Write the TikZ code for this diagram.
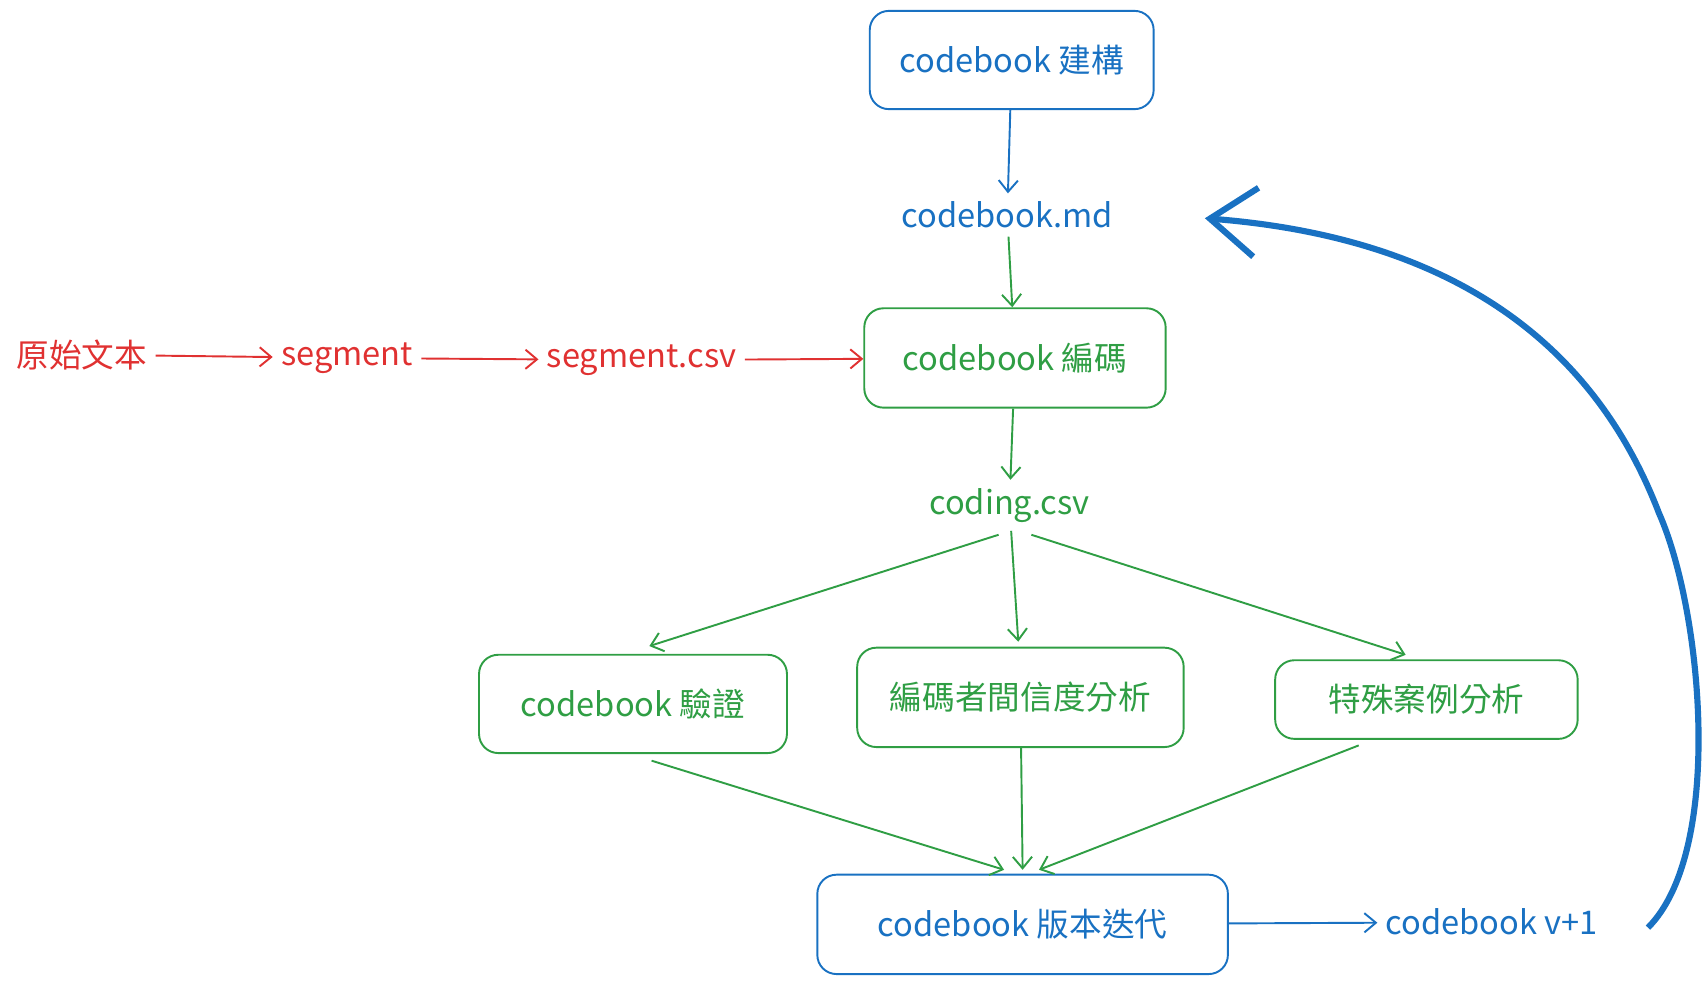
\documentclass[tikz,border=0pt]{standalone}
\usepackage{fontspec}
\setmainfont{Noto Sans CJK TC}
\usetikzlibrary{arrows.meta}
\definecolor{cb}{HTML}{1971C2}
\definecolor{cg}{HTML}{2F9E44}
\definecolor{cr}{HTML}{E03131}
\begin{document}
\begin{tikzpicture}[x=0.01cm,y=0.01cm,font=\fontsize{8.5}{10}\selectfont,
 box/.style={draw,rounded corners=5pt,line width=0.5pt,inner sep=0pt},
 txt/.style={inner sep=2pt},
 arr/.style={-{Straight Barb[length=3pt,width=5pt]},line width=0.5pt}]
\useasboundingbox (0,0) rectangle (1565,-901);
\node[box,cb,minimum width=26mm,minimum height=9mm] (a) at (927,-55) {codebook 建構};
\node[txt,cb] (md) at (923,-197) {codebook.md};
\node[box,cg,minimum width=27.6mm,minimum height=9.1mm] (b) at (930,-328) {codebook 編碼};
\node[txt,cr] (r0) at (75,-325) {原始文本};
\node[txt,cr] (r1) at (318,-328) {segment};
\node[txt,cr] (r2) at (588,-330) {segment.csv};
\node[txt,cg] (c) at (925,-463) {coding.csv};
\node[box,cg,minimum width=28.2mm,minimum height=9mm] (v) at (580,-645) {codebook 驗證};
\node[box,cg,minimum width=29.9mm,minimum height=9.1mm] (i) at (935,-639) {編碼者間信度分析};
\node[box,cg,minimum width=27.7mm,minimum height=7.2mm] (s) at (1307,-641) {特殊案例分析};
\node[box,cb,minimum width=37.6mm,minimum height=9.1mm] (e) at (937,-847) {codebook 版本迭代};
\node[txt,cb] (n) at (1367,-845) {codebook v+1};
\coordinate (c1) at (915,-490);
\coordinate (c2) at (945,-490);
\coordinate (v1) at (597,-697);
\coordinate (s1) at (1245,-683);
\coordinate (t) at (1510,-850);
\draw[arr,cb] (a) -- (md);
\draw[arr,cg] (md) -- (b);
\draw[arr,cr] (r0) -- (r1);
\draw[arr,cr] (r1) -- (r2);
\draw[arr,cr] (r2) -- (b);
\draw[arr,cg] (b) -- (c);
\draw[arr,cg] (c1) -- (595,-592);
\draw[arr,cg] (c) -- (933,-588);
\draw[arr,cg] (c2) -- (1288,-600);
\draw[arr,cg] (v1) -- (920,-797);
\draw[arr,cg] (i) -- (937,-797);
\draw[arr,cg] (s1) -- (952,-797);
\draw[arr,cb] (e) -- (n);
\draw[cb,line width=1.6pt,-{Straight Barb[length=12pt,width=18pt,line width=1.6pt]}] (t) .. controls (1580,-780) and (1560,-560) .. (1520,-470) .. controls (1470,-340) and (1360,-220) .. (1104,-200);
\end{tikzpicture}
\end{document}
